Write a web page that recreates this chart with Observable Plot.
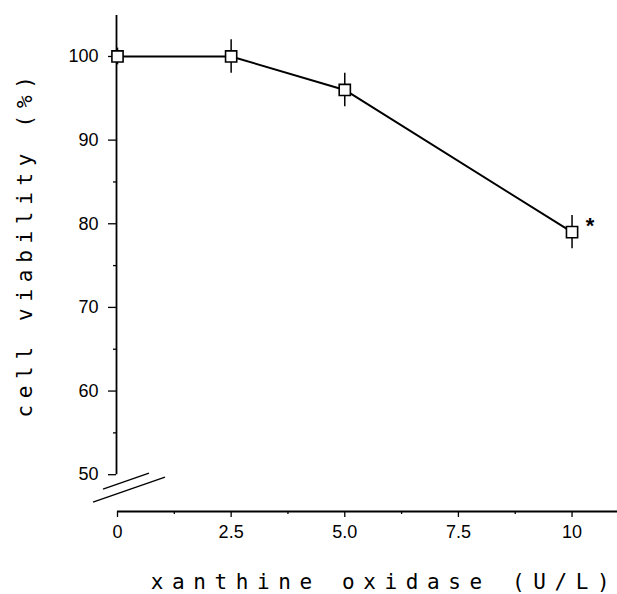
<!DOCTYPE html>
<html>
<head>
<meta charset="utf-8">
<script src="https://cdn.jsdelivr.net/npm/d3@7"></script>
<script src="https://cdn.jsdelivr.net/npm/@observablehq/plot@0.6"></script>
<style>
  html, body { margin: 0; padding: 0; background: #fff; }
</style>
</head>
<body>
<div id="chart"></div>
<script>
// Data
const conc = [0, 2.5, 5, 10];              // xanthine oxidase (U/L)
const viability = [100, 100, 96, 79];      // cell viability (%)
const sem = [1, 2, 2, 2];                  // error bar half-length
const significance = ["", "", "", "*"];

const yTicks = [50, 60, 70, 80, 90, 100];
const yMinorTicks = [55, 65, 75, 85];
const xTicks = [0, 2.5, 5, 7.5, 10];
const xTickLabels = ["0", "2.5", "5.0", "7.5", "10"];
const xMinorTicks = [1.25, 3.75, 6.25, 8.75];

const yLabel = "cell viability (%)";
const xLabel = "xanthine oxidase (U/L)";

const data = conc.map((c, i) => ({
  conc: c, v: viability[i], lo: viability[i] - sem[i], hi: viability[i] + sem[i], sig: significance[i]
}));

const yMin = 45.6, yMax = 104.9, yAxisStart = 50;

// axis break marks drawn relative to the y-axis bottom (x=0, y=50)
function breakMarks(index, scales, values, dimensions) {
  const x0 = scales.x(0), y0 = scales.y(yAxisStart);
  const g = d3.create("svg:g").attr("stroke", "black").attr("stroke-width", 1.4).attr("fill", "none");
  const segs = [[-14, 15, 32, -1], [-24, 28, 48, 3]];
  for (const [a, b, c, d] of segs) {
    g.append("line").attr("x1", x0 + a).attr("y1", y0 + b).attr("x2", x0 + c).attr("y2", y0 + d);
  }
  return g.node();
}

const chart = Plot.plot({
  width: 617,
  height: 594,
  marginLeft: 117,
  marginRight: 0,
  marginTop: 15,
  marginBottom: 83,
  style: { fontFamily: "'Liberation Sans', Arial, sans-serif", fontSize: "18px", color: "black", background: "white" },
  x: { domain: [0, 11] },
  y: { domain: [yMin, yMax] },
  marks: [
    Plot.ruleX([0], { y1: yAxisStart, y2: yMax, dx: -1, stroke: "black", strokeWidth: 1.8 }),
    Plot.ruleY([yMin], { stroke: "black", strokeWidth: 1.8 }),
    Plot.axisY({ ticks: yTicks, tickSize: 8, tickPadding: 10, dx: -1, label: null, tickFormat: d => String(d), strokeWidth: 1.3 }),
    Plot.axisY({ ticks: yMinorTicks, tickSize: 3, dx: -1, label: null, tickFormat: () => "", strokeWidth: 1.3 }),
    Plot.axisX({ ticks: xTicks, tickSize: 6, tickPadding: 8, label: null,
      tickFormat: d => xTickLabels[xTicks.indexOf(d)], strokeWidth: 1.3 }),
    Plot.axisX({ ticks: xMinorTicks, tickSize: 3, label: null, tickFormat: () => "", strokeWidth: 1.3 }),
    breakMarks,
    Plot.ruleX(data, { x: "conc", y1: "lo", y2: "hi", stroke: "black", strokeWidth: 1.5 }),
    Plot.line(data, { x: "conc", y: "v", stroke: "black", strokeWidth: 2 }),
    Plot.dot(data, { x: "conc", y: "v", symbol: "square", r: 6.3, fill: "white", stroke: "black", strokeWidth: 1.6 }),
    Plot.text(data, { x: "conc", y: "v", text: "sig", dx: 18, dy: -6, fontSize: 22, fontWeight: "bold", fill: "black" }),
    Plot.text([yLabel], { frameAnchor: "left", textAnchor: "middle", text: d => d, rotate: -90, dx: -92, dy: -20,
      fontFamily: "'DejaVu Sans Mono', monospace", fontSize: 21, fill: "black" }),
    Plot.text([xLabel], { frameAnchor: "bottom", textAnchor: "middle", text: d => d, dx: 17, dy: 71, lineAnchor: "middle",
      fontFamily: "'DejaVu Sans Mono', monospace", fontSize: 21, fill: "black" })
  ]
});

document.getElementById("chart").appendChild(chart);

// wide letter spacing of the original axis titles
d3.select(chart).selectAll("text").each(function () {
  const t = this.textContent;
  if (t === yLabel) this.style.letterSpacing = "6.7px";
  if (t === xLabel) this.style.letterSpacing = "8.6px";
});
</script>
</body>
</html>
